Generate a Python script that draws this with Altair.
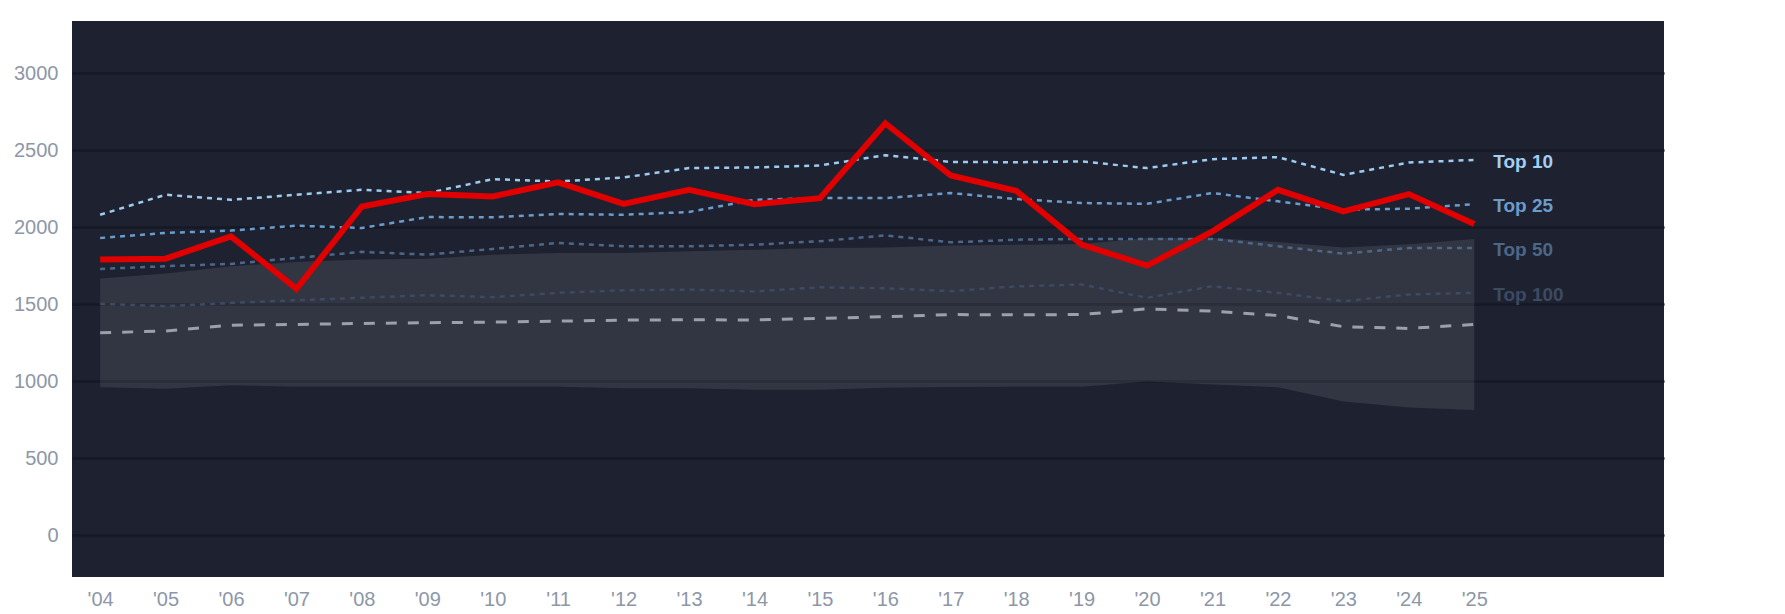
import altair as alt
import pandas as pd

years = list(range(2004, 2026))
main = [1791, 1797, 1942, 1601, 2136, 2216, 2201, 2292, 2153, 2244, 2150, 2190,
        2676, 2337, 2238, 1888, 1752, 1974, 2244, 2104, 2216, 2022]
top10 = [2082, 2212, 2179, 2212, 2244, 2223, 2313, 2298, 2324, 2385, 2389, 2402,
         2469, 2425, 2423, 2428, 2385, 2443, 2456, 2341, 2421, 2438]
top25 = [1931, 1964, 1979, 2011, 1996, 2067, 2065, 2087, 2082, 2100, 2179, 2190,
         2190, 2223, 2184, 2158, 2153, 2223, 2169, 2115, 2121, 2151]
top50 = [1730, 1748, 1763, 1802, 1841, 1823, 1860, 1899, 1877, 1877, 1888, 1910,
         1948, 1903, 1920, 1925, 1925, 1925, 1877, 1830, 1866, 1866]
top100 = [1504, 1488, 1510, 1527, 1543, 1560, 1547, 1575, 1592, 1596, 1584, 1611,
          1605, 1586, 1617, 1629, 1543, 1618, 1575, 1521, 1564, 1575]
median = [1316, 1327, 1365, 1370, 1376, 1381, 1385, 1391, 1398, 1400, 1399, 1409,
          1420, 1434, 1432, 1434, 1471, 1456, 1428, 1355, 1344, 1370]
band_hi = [1668, 1700, 1748, 1776, 1791, 1797, 1823, 1834, 1834, 1845, 1855, 1866,
           1870, 1883, 1888, 1892, 1931, 1931, 1905, 1870, 1890, 1925]
band_lo = [962, 953, 975, 966, 966, 966, 966, 966, 955, 955, 945, 945,
           958, 963, 965, 965, 1000, 980, 962, 870, 830, 815]

label_names = ["Top 10", "Top 25", "Top 50", "Top 100"]
label_colors = ["#a2cff3", "#6b9ccb", "#4d6788", "#3c4a62"]

df = pd.DataFrame({
    "year": years, "main": main, "top10": top10, "top25": top25,
    "top50": top50, "top100": top100, "median": median,
    "lo": band_lo, "hi": band_hi,
})

lab_df = pd.DataFrame({
    "year": [years[-1]] * 4,
    "value": [top10[-1], top25[-1], top50[-1], top100[-1]],
    "name": label_names,
})

xscale = alt.Scale(domain=[2003.57, 2027.9], nice=False, zero=False)
yscale = alt.Scale(domain=[-270, 3340], nice=False, zero=False)

xaxis = alt.Axis(
    values=years, labelExpr="\"'\" + slice(toString(datum.value), 2)",
    grid=False, ticks=False, domain=False, labelPadding=12,
    labelFontSize=20, labelColor="#8d97a8", title=None,
)
yaxis = alt.Axis(
    values=[0, 500, 1000, 1500, 2000, 2500, 3000], format="d",
    grid=True, gridColor="#161925", gridWidth=2.5,
    ticks=False, domain=False, labelPadding=14,
    labelFontSize=20, labelColor="#8d97a8", title=None,
)

base = alt.Chart(df)

band = base.mark_area(color="#ffffff", opacity=0.09).encode(
    x=alt.X("year:Q", scale=xscale, axis=xaxis),
    y=alt.Y("lo:Q", scale=yscale, axis=yaxis),
    y2="hi:Q",
)


def dline(col, color, width, dash):
    return base.mark_line(color=color, strokeWidth=width, strokeDash=dash).encode(
        x=alt.X("year:Q", scale=xscale),
        y=alt.Y(f"{col}:Q", scale=yscale),
    )


l100 = dline("top100", label_colors[3], 2.5, [5, 5])
lmed = dline("median", "#9ba0aa", 3, [11, 11])
l50 = dline("top50", label_colors[2], 2.5, [5, 5])
l25 = dline("top25", label_colors[1], 2.5, [5, 5])
l10 = dline("top10", "#9ecbf0", 2.5, [5, 5])
red = base.mark_line(color="#e00000", strokeWidth=6).encode(
    x=alt.X("year:Q", scale=xscale),
    y=alt.Y("main:Q", scale=yscale),
)

labels = alt.Chart(lab_df).mark_text(
    align="left", baseline="middle", dx=19, dy=2, fontSize=19, fontWeight="bold",
    font="Arial",
).encode(
    x=alt.X("year:Q", scale=xscale),
    y=alt.Y("value:Q", scale=yscale),
    text="name:N",
    color=alt.Color("name:N", scale=alt.Scale(domain=label_names, range=label_colors),
                    legend=None),
)

chart = alt.layer(band, l100, lmed, l50, l25, l10, red, labels).properties(
    width=1592, height=556,
    padding={"left": 5, "top": 13, "right": 5, "bottom": 5},
    background="white",
).configure_view(
    fill="#1e2130", stroke=None,
).configure_axis(
    labelFont="Arial",
)

chart.save("out.html", embed_options={"renderer": "svg", "actions": False})
